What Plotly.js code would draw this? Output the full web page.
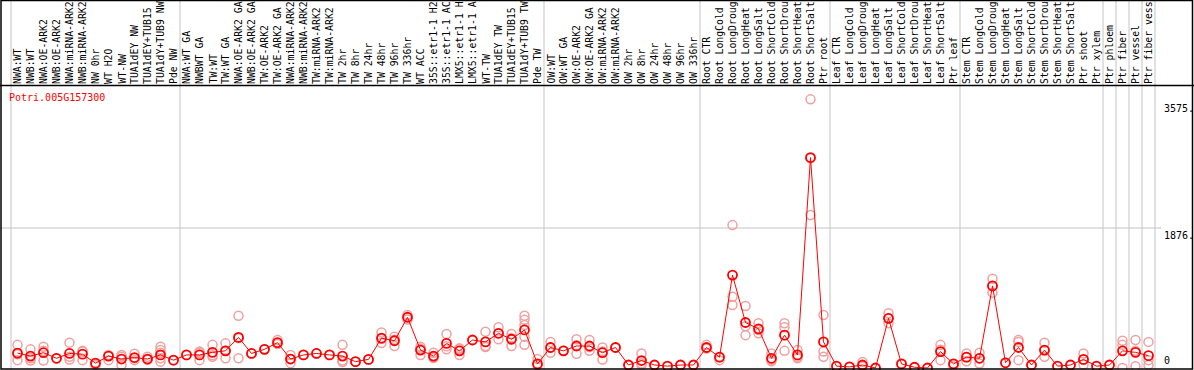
<!DOCTYPE html>
<html>
<head>
<meta charset="utf-8">
<script src="https://cdn.plot.ly/plotly-3.0.1.min.js"></script>
<style>html,body{margin:0;padding:0;background:#fff;}#chart{width:1194px;height:370px;}</style>
</head>
<body>
<div id="chart"></div>
<script>
const geneName = "Potri.005G157300";
const categories = [
 "NWA:WT","NWB:WT","NWA:OE-ARK2","NWB:OE-ARK2","NWA:miRNA-ARK2","NWB:miRNA-ARK2","NW 0hr","WT H2O","WT-NW","TUA1dEY NW","TUA1dEY+TUB15 NW","TUA1dY+TUB9 NW","Pde NW",
 "NWA:WT GA","NWBWT GA","TW:WT","TW:WT GA","NWA:OE-ARK2 GA","NWB:OE-ARK2 GA","TW:OE-ARK2","TW:OE-ARK2 GA","NWA:miRNA-ARK2","NWB:miRNA-ARK2","TW:miRNA-ARK2","TW:miRNA-ARK2","TW 2hr","TW 8hr","TW 24hr","TW 48hr","TW 96hr","TW 336hr","WT ACC","35S::etr1-1 H2O","35S::etr1-1 ACC","LMX5::etr1-1 H2O","LMX5::etr1-1 ACC","WT-TW","TUA1dEY TW","TUA1dEY+TUB15 TW","TUA1dY+TUB9 TW","Pde TW",
 "OW:WT","OW:WT GA","OW:OE-ARK2","OW:OE-ARK2 GA","OW:miRNA-ARK2","OW:miRNA-ARK2","OW 2hr","OW 8hr","OW 24hr","OW 48hr","OW 96hr","OW 336hr",
 "Root CTR","Root LongCold","Root LongDrought","Root LongHeat","Root LongSalt","Root ShortCold","Root ShortDrought","Root ShortHeat","Root ShortSalt","Ptr root",
 "Leaf CTR","Leaf LongCold","Leaf LongDrought","Leaf LongHeat","Leaf LongSalt","Leaf ShortCold","Leaf ShortDrought","Leaf ShortHeat","Leaf ShortSalt","Ptr leaf",
 "Stem CTR","Stem LongCold","Stem LongDrought","Stem LongHeat","Stem LongSalt","Stem ShortCold","Stem ShortDrought","Stem ShortHeat","Stem ShortSalt","Ptr shoot","Ptr xylem",
 "Ptr phloem","Ptr fiber","Ptr vessel","Ptr fiber vessel"
];
const groupSizes = [13, 28, 12, 10, 10, 11, 1, 1, 1, 1];
const meanValues = [
 200,160,205,130,195,185,65,160,120,140,120,175,105,
 175,175,210,230,410,195,250,340,120,175,195,175,160,85,115,400,365,680,240,160,330,230,375,350,465,385,510,55,
 275,230,295,295,205,275,40,100,40,25,40,40,
 275,145,1245,610,525,130,440,175,2820,350,
 25,15,40,0,665,55,10,0,220,55,
 145,130,1100,70,275,40,240,25,40,115,25,
 40,230,210,165
];
const replicates = [
 [310,105,185],[250,100,130],[285,100,230],[130],[340,115,150],[220,105,230],[40,60],[105,175],[175,40,150],[190,105,130],[150,110],[285,240,205,130,85],[105],
 [175],[220,105,200],[310,150,170],[330,130,230],[700,130,400],[195],[250],[375,320],[175,65,120],[175],[195],[175],[310,100,80],[85],[115],[475,335,390],[420,295,380],[710,650],[285,175,260],[205,135,150],[455,250,290],[265,175,250],[375],[485,295,280],[545,385,465],[455,295,400],[700,645,575,420,310],[120,40],
 [350,205,275],[230],[385,190,300],[375,230,280],[275,115,220],[275],[40],[195,60,40],[40],[25],[40],[40],
 [310,260],[105,145],[1915,955,845],[830,440,560],[600,465,510],[195,110,90],[600,545,230],[240,150,130],[3600,2050,2810],[710,220,150],
 [25],[15],[80,20],[0],[735,600,665],[55],[10],[0],[310,105,245],[55,25],
 [195,145,90],[205,130,60],[1195,1100,1010],[70],[375,105,350],[40],[340,150,235],[25],[40],[195,110,45],[25],
 [40],[365,310,0],[375,25,230],[350,105,40]
];
const yTickValues = [0, 1876, 3575];
const yTickLabels = ["0", "1876.", "3575."];
const labelChars = 14; // the label band only has room for 14 characters

const W = 1194, H = 370;
const xIdx = categories.map((c, i) => i);
const repX = [], repY = [];
replicates.forEach((arr, i) => arr.forEach(v => { repX.push(i); repY.push(v); }));

// category i centered at pixel 17.5 + 13*i ; value 0 at y pixel 368, 13.4 units per pixel
const xRange = [-17.5 / 13, (W - 17.5) / 13];
const upp = 13.4;
const yRange = [-(H - 368) * upp, 368 * upp];
const px = p => p / W;
const py = p => 1 - p / H;

const shapes = [];
const grid = {color: "#c4c4c4", width: 1};
let b = -0.5;
const bounds = [b];
groupSizes.forEach(s => { b += s; bounds.push(b); });
bounds.forEach(v => shapes.push({type: "line", xref: "x", yref: "paper", x0: v, x1: v, y0: 0, y1: 1, line: grid, layer: "below"}));
shapes.push({type: "line", xref: "paper", yref: "y", x0: 0, x1: px(1161), y0: yTickValues[1], y1: yTickValues[1], line: grid, layer: "below"});
const blk = {color: "#000", width: 1.5};
shapes.push({type: "line", xref: "paper", yref: "paper", x0: px(0), x1: px(W), y0: py(85.5), y1: py(85.5), line: blk});
shapes.push({type: "rect", xref: "paper", yref: "paper", x0: px(1), x1: px(1192.5), y0: py(0.5), y1: py(369), line: blk});

const annotations = [];
categories.forEach((c, i) => annotations.push({
  x: i, y: py(84), xref: "x", yref: "paper", text: c.slice(0, labelChars), showarrow: false, textangle: -90,
  borderpad: 0, borderwidth: 0,
  xanchor: "center", yanchor: "bottom", font: {family: "DejaVu Sans Mono", size: 9.8, color: "#000"}
}));
yTickValues.forEach((v, k) => annotations.push({
  x: px(1162), y: v, xref: "paper", yref: "y", text: yTickLabels[k], showarrow: false,
  xanchor: "left", yanchor: v === 0 ? "bottom" : "top", font: {family: "DejaVu Sans Mono", size: 10, color: "#000"}
}));
annotations.push({x: px(7), y: py(97), xref: "paper", yref: "paper", text: geneName, showarrow: false,
  xanchor: "left", yanchor: "middle", font: {family: "DejaVu Sans Mono", size: 10, color: "#ff0000"}});

const traces = [
  {x: repX, y: repY, type: "scatter", mode: "markers", hoverinfo: "skip",
   marker: {symbol: "circle-open", size: 9, color: "#f0a0a0", line: {width: 1.5, color: "#f0a0a0"}}},
  {x: xIdx, y: meanValues, type: "scatter", mode: "lines+markers",
   line: {color: "#ff0000", width: 1},
   marker: {symbol: "circle-open", size: 9, color: "#ff0000", line: {width: 1.8, color: "#ee0000"}}}
];

const layout = {
  width: W, height: H, margin: {l: 0, r: 0, t: 0, b: 0, pad: 0},
  paper_bgcolor: "#fff", plot_bgcolor: "#fff", showlegend: false,
  xaxis: {range: xRange, showgrid: false, zeroline: false, showticklabels: false, showline: false, ticks: "", fixedrange: true},
  yaxis: {range: yRange, showgrid: false, zeroline: false, showticklabels: false, showline: false, ticks: "", fixedrange: true},
  shapes: shapes, annotations: annotations
};
Plotly.newPlot("chart", traces, layout, {staticPlot: true, displayModeBar: false});
</script>
</body>
</html>
